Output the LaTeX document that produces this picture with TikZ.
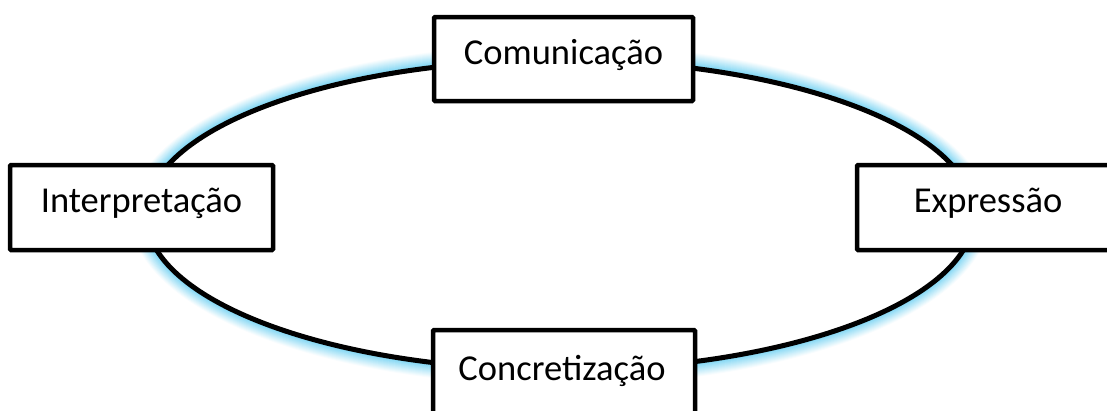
\documentclass[tikz,border=0pt]{standalone}
\usepackage{fontspec}
\setmainfont{Carlito}
\definecolor{glowc}{RGB}{140,218,245}
\tikzset{
  x=1pt,y=-1pt,
  box/.style={draw=black,fill=white,line width=4.5pt,rounded corners=1pt,inner sep=0pt},
  lbl/.style={anchor=base,inner sep=0pt,font=\fontsize{36.5}{40}\selectfont},
  ring/.style={draw=black,line width=5pt}
}
\begin{document}
\begin{tikzpicture}
\useasboundingbox (0,0) rectangle (1107,410);
\clip (0,0) rectangle (1107,410);
\coordinate (c) at (560,215);
% glow
\foreach \k in {14,13,...,1}{
  \pgfmathsetmacro{\pc}{max(0,100-(\k-2)*8)}
  \draw[glowc!\pc!white,line width=1.4pt] (c) ellipse [x radius=414pt+\k pt+1pt, y radius=155pt+\k pt+1pt];
}
\draw[ring] (c) ellipse [x radius=414pt, y radius=155pt];
% boxes
\node[box,minimum width=259pt,minimum height=84pt] (com) at (563.5,59) {};
\node[box,minimum width=263pt,minimum height=85pt] (int) at (141.5,207.5) {};
\node[box,minimum width=280pt,minimum height=85pt] (exp) at (997,207.5) {};
\node[box,minimum width=262pt,minimum height=90pt] (con) at (564,375) {};
% labels
\node[lbl] (tcom) at ([yshift=-5.2pt]com.center) {Comunicação};
\node[lbl] (tint) at ([yshift=-5.2pt]int.center) {Interpretação};
\node[lbl] (texp) at ([xshift=-9pt,yshift=-5.2pt]exp.center) {Expressão};
\node[lbl] (tcon) at ([xshift=-2pt,yshift=-5.2pt]con.center) {Concretização};
\end{tikzpicture}
\end{document}
